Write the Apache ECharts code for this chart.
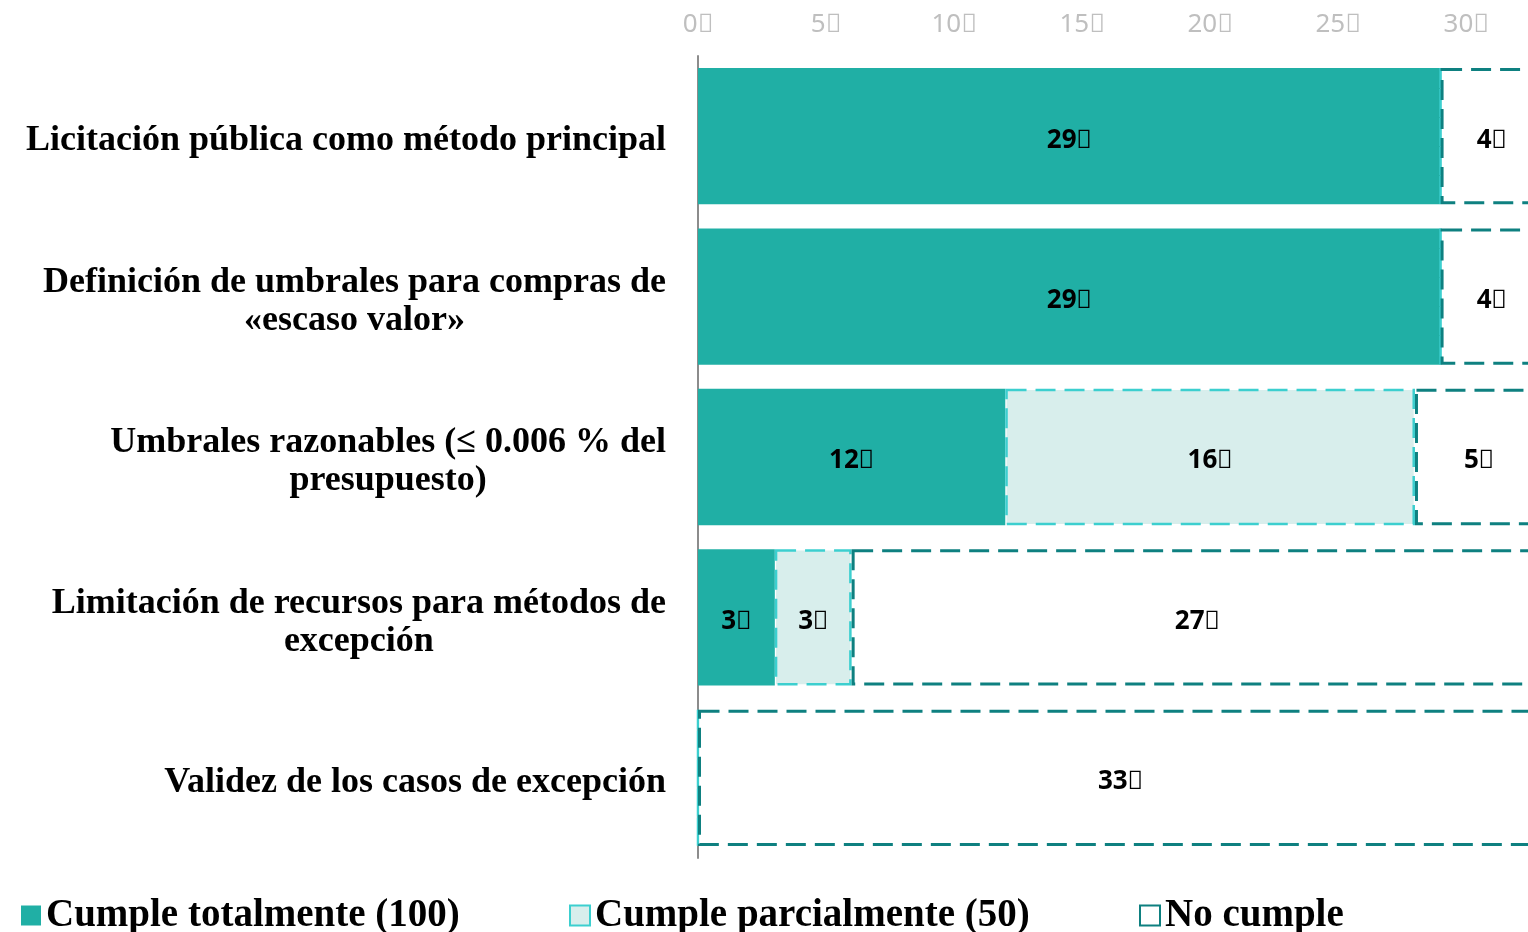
<!DOCTYPE html>
<html>
<head>
<meta charset="utf-8">
<script src="https://cdn.jsdelivr.net/npm/echarts@6/dist/echarts.min.js"></script>
<style>
  html, body { margin: 0; padding: 0; background: #fff; }
  #chart { width: 1528px; height: 932px; }
</style>
</head>
<body>
<div id="chart"></div>
<script>
// datos del gráfico
var categorias = [
  'Licitación pública como método principal',
  'Definición de umbrales para compras de\n«escaso valor»',
  'Umbrales razonables (≤ 0.006 % del\npresupuesto)',
  'Limitación de recursos para métodos de\nexcepción',
  'Validez de los casos de excepción'
];
var cumpleTotal = [29, 29, 12, 3, 0];
var cumpleParcial = [0, 0, 16, 3, 0];
var noCumple = [4, 4, 5, 27, 33];
var ticks = [0, 5, 10, 15, 20, 25, 30];
var sufijo = '\uE000'; // el carácter que sale como caja en el original

var nombres = ['Cumple totalmente (100)', 'Cumple parcialmente (50)', 'No cumple'];

var myChart = echarts.init(document.getElementById('chart'));

function etiqueta(p) {
  return p.value ? p.value + sufijo : '';
}

var labelStyle = {
  show: true,
  position: 'inside',
  offset: [0, 4],
  formatter: etiqueta,
  color: '#000',
  fontFamily: 'Noto Sans',
  fontWeight: 'bold',
  fontSize: 26
};

var legendBase = {
  top: 896,
  padding: 0,
  itemWidth: 20,
  itemHeight: 20,
  icon: 'rect',
  textStyle: { fontFamily: 'Liberation Serif', fontWeight: 'bold', fontSize: 39, color: '#000' }
};

myChart.setOption({
  animation: false,
  // la barra de 33 se sale por la derecha como en el original
  grid: { left: 698, top: 56, bottom: 74, width: 845, containLabel: false, outerBoundsMode: 'none' },
  legend: [
    Object.assign({ left: 21, data: [nombres[0]] }, legendBase),
    Object.assign({ left: 569, data: [nombres[1]] }, legendBase),
    Object.assign({ left: 1139, data: [nombres[2]] }, legendBase)
  ],
  xAxis: {
    type: 'value',
    position: 'top',
    min: 0,
    max: 33,
    interval: 5,
    splitLine: { show: false },
    axisLine: { show: false },
    axisTick: { show: false },
    axisLabel: {
      margin: 18,
      color: '#BFBFBF',
      fontFamily: 'Noto Sans',
      fontSize: 26,
      formatter: function (v) { return ticks.indexOf(v) >= 0 ? v + sufijo : ''; }
    }
  },
  yAxis: {
    type: 'category',
    inverse: true,
    data: categorias,
    axisTick: { show: false },
    axisLine: { show: true, lineStyle: { color: '#8C8C8C', width: 2 } },
    axisLabel: {
      margin: 32,
      align: 'right',
      padding: [10, 0, 0, 0],
      formatter: function (v) {
        return v.split('\n').map(function (l) { return '{c|' + l + '}'; }).join('\n');
      },
      rich: {
        c: {
          align: 'center',
          fontFamily: 'Liberation Serif',
          fontWeight: 'bold',
          fontSize: 36,
          lineHeight: 38,
          color: '#000'
        }
      }
    }
  },
  series: [
    {
      name: nombres[0],
      type: 'bar',
      stack: 'total',
      barCategoryGap: '15%',
      data: cumpleTotal,
      itemStyle: { color: '#20AFA5' },
      label: labelStyle
    },
    {
      name: nombres[1],
      type: 'bar',
      stack: 'total',
      data: cumpleParcial,
      itemStyle: { color: '#D8EEEC', borderColor: '#3CCFCF', borderWidth: 2.5, borderType: [20, 9] },
      label: labelStyle
    },
    {
      name: nombres[2],
      type: 'bar',
      stack: 'total',
      data: noCumple,
      itemStyle: { color: '#FFFFFF', borderColor: '#0E8080', borderWidth: 3, borderType: [20, 9] },
      label: labelStyle
    }
  ]
});
</script>
</body>
</html>
